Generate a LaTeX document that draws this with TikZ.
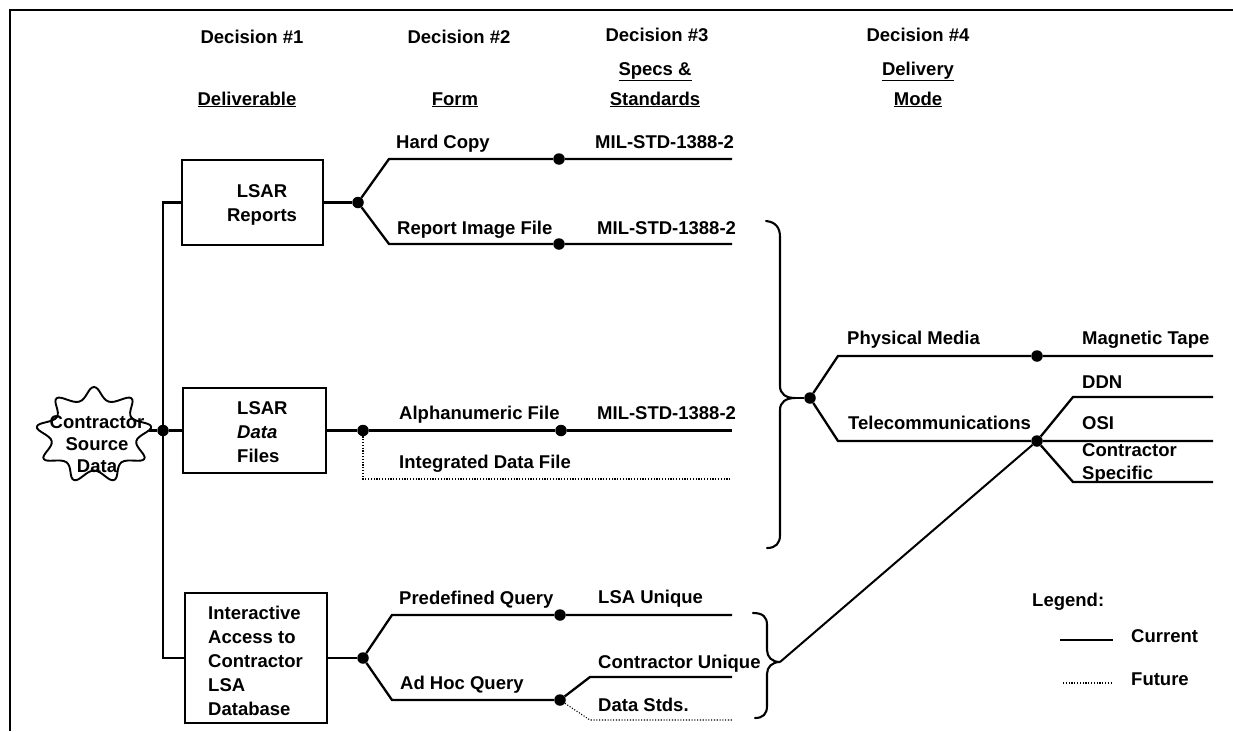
\documentclass[tikz,border=0pt]{standalone}
\usepackage{fontspec}
\setmainfont{Liberation Sans}
\usetikzlibrary{calc}

\begin{document}
\begin{tikzpicture}[x=1pt, y=-1pt,
  every node/.append style={font=\bfseries\fontsize{18.5}{24}\selectfont},
  wire/.style={line width=2.3pt},
  fut/.style={line width=1.1pt, dash pattern=on 1.1pt off 1.7pt},
  dot/.style={circle, fill=black, inner sep=0pt, minimum size=11.5pt},
  box/.style={draw, line width=2pt, inner sep=0pt},
  lbl/.style={anchor=base west, inner sep=0pt},
  hdr/.style={anchor=base, inner sep=0pt},
  brace/.style={line width=2.1pt, line cap=round}]

\useasboundingbox (0,0) rectangle (1233,731);

% frame
\draw[line width=2.4pt] (10,731) -- (10,10) -- (1233,10);

% column headings
\node[hdr] (h1) at (252,43) {Decision \#1};
\node[hdr] (h2) at (459,43) {Decision \#2};
\node[hdr] (h3) at (657,41) {Decision \#3};
\node[hdr] (h4) at (918,41) {Decision \#4};
\node[hdr] (t1) at (247,105) {\underline{Deliverable}};
\node[hdr] (t2) at (455,105) {\underline{Form}};
\node[hdr] (t3a) at (655,75) {\underline{Specs \&}};
\node[hdr] (t3b) at (655,105) {\underline{Standards}};
\node[hdr] (t4a) at (918,75) {\underline{Delivery}};
\node[hdr] (t4b) at (918,105) {\underline{Mode}};

% source cloud: a wavy closed outline
\draw[line width=1.9pt, line join=round]
  plot[smooth cycle, tension=0.7, domain=0:340, samples=18, variable=\t]
  ({94+58*(0.87+0.13*cos(9*\t))*cos(\t+90)},
   {435-48*(0.87+0.13*cos(9*\t))*sin(\t+90)});
\node[align=center, inner sep=0pt,
      font=\bfseries\fontsize{18.5}{22}\selectfont] (src) at (97,444)
  {Contractor\\Source\\Data};
\coordinate (srcE) at (149,430.5);

% deliverable boxes
\node[box, minimum width=141pt, minimum height=85pt] (rep) at (252.5,202.5) {};
\node[align=center, inner sep=0pt] (repT) at (262,205) {LSAR\\Reports};
\node[box, minimum width=143pt, minimum height=85pt] (dat) at (254.5,430.5) {};
\node[align=left, anchor=west, inner sep=0pt] (datT) at (237,432)
  {LSAR\\\textit{Data}\\Files};
\node[box, minimum width=142pt, minimum height=130pt] (ia) at (256,658) {};
\node[align=left, anchor=west, inner sep=0pt] (iaT) at (208,661)
  {Interactive\\Access to\\Contractor\\LSA\\Database};

% trunk from the source
\node[dot] (d0) at (163,430.5) {};
\draw[wire] (rep.west) -| (d0) |- (ia.west);
\draw[wire] (srcE) -- (d0) -- (dat.west);

% reports branch
\node[dot] (r0) at (358,202.5) {};
\coordinate (ra) at (389,159);
\coordinate (rb) at (389,244);
\node[dot] (hc) at (559,159) {};
\node[dot] (ri) at (559,244) {};
\coordinate (hcE) at (732,159);
\coordinate (riE) at (732,244);
\draw[wire] (rep.east) -- (r0);
\draw[wire] (r0) -- (ra) -- (hc) -- (hcE);
\draw[wire] (r0) -- (rb) -- (ri) -- (riE);
\node[lbl] (l1) at (396,148) {Hard Copy};
\node[lbl] (l2) at (595,148) {MIL-STD-1388-2};
\node[lbl] (l3) at (397,234) {Report Image File};
\node[lbl] (l4) at (597,234) {MIL-STD-1388-2};

% data files branch
\node[dot] (f0) at (363,430.5) {};
\node[dot] (af) at (561,430.5) {};
\coordinate (afE) at (732,430.5);
\coordinate (idC) at (363,479);
\coordinate (idE) at (732,479);
\draw[wire] (dat.east) -- (f0) -- (af) -- (afE);
\draw[fut] (f0) -- (idC) -- (idE);
\node[lbl] (l5) at (399,419) {Alphanumeric File};
\node[lbl] (l6) at (597,419) {MIL-STD-1388-2};
\node[lbl] (l7) at (399,468) {Integrated Data File};

% interactive access branch
\node[dot] (i0) at (363,658) {};
\coordinate (ia1) at (392,615);
\coordinate (ia2) at (392,700);
\node[dot] (pq) at (560,615) {};
\node[dot] (ah) at (560,700) {};
\coordinate (pqE) at (732,615);
\coordinate (cu1) at (590,677);
\coordinate (cuE) at (732,677);
\coordinate (ds1) at (590,720);
\coordinate (dsE) at (732,720);
\draw[wire] (ia.east) -- (i0);
\draw[wire] (i0) -- (ia1) -- (pq) -- (pqE);
\draw[wire] (i0) -- (ia2) -- (ah);
\draw[wire] (ah) -- (cu1) -- (cuE);
\draw[fut] (ah) -- (ds1) -- (dsE);
\node[lbl] (l8) at (399,604) {Predefined Query};
\node[lbl] (l9) at (598,603) {LSA Unique};
\node[lbl] (l10) at (400,689) {Ad Hoc Query};
\node[lbl] (l11) at (598,668) {Contractor Unique};
\node[lbl] (l12) at (598,711) {Data Stds.};

% braces gathering the file-based and interactive outputs
\coordinate (b1tip) at (795,398);
\coordinate (b2tip) at (780,662);
\draw[brace] (766,221) .. controls (776,222) and (780,228) .. (780,237)
  -- (780,386) .. controls (780,394) and (786,398) .. (b1tip)
  .. controls (786,398) and (780,402) .. (780,410)
  -- (780,535) .. controls (780,543) and (776,548) .. (767,548);
\draw[brace] (753,613) .. controls (763,613) and (767,617) .. (767,625)
  -- (767,650) .. controls (767,657) and (772,662) .. (b2tip)
  .. controls (772,662) and (767,667) .. (767,674)
  -- (767,706) .. controls (767,714) and (763,718) .. (755,718);

% delivery mode branch
\node[dot] (m0) at (810,398) {};
\coordinate (m1) at (838,356);
\coordinate (m2) at (838,441);
\node[dot] (pm) at (1037,356) {};
\node[dot] (tc) at (1037,441) {};
\coordinate (pmE) at (1213,356);
\coordinate (osiE) at (1213,441);
\coordinate (dd1) at (1073,397);
\coordinate (ddE) at (1213,397);
\coordinate (cs1) at (1073,482);
\coordinate (csE) at (1213,482);
\draw[wire] (b1tip) -- (m0);
\draw[wire] (m0) -- (m1) -- (pm) -- (pmE);
\draw[wire] (m0) -- (m2) -- (tc) -- (osiE);
\draw[wire] (tc) -- (dd1) -- (ddE);
\draw[wire] (tc) -- (cs1) -- (csE);
\draw[line width=2pt] (b2tip) -- (tc);
\node[lbl] (l13) at (847,344) {Physical Media};
\node[lbl] (l14) at (1082,344) {Magnetic Tape};
\node[lbl] (l15) at (848,429) {Telecommunications};
\node[lbl] (l16) at (1082,388) {DDN};
\node[lbl] (l17) at (1082,429) {OSI};
\node[lbl] (l18) at (1082,456) {Contractor};
\node[lbl] (l19) at (1082,479) {Specific};

% legend
\node[lbl] (lg) at (1032,606) {Legend:};
\coordinate (lc1) at (1060,640);
\coordinate (lc2) at (1113,640);
\coordinate (lf1) at (1063,683);
\coordinate (lf2) at (1113,683);
\draw[line width=1.8pt] (lc1) -- (lc2);
\draw[fut] (lf1) -- (lf2);
\node[lbl] (lgc) at (1131,642) {Current};
\node[lbl] (lgf) at (1131,685) {Future};

\end{tikzpicture}
\end{document}
